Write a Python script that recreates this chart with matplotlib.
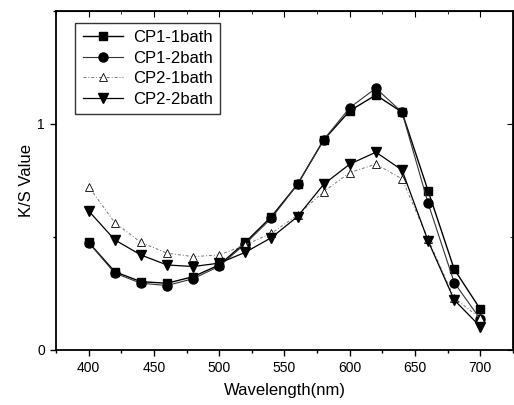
import matplotlib
matplotlib.use("Agg")
import matplotlib.pyplot as plt
from matplotlib.ticker import MultipleLocator

plt.rcParams['font.family'] = ['Liberation Sans', 'DejaVu Sans']

wavelength = [400, 420, 440, 460, 480, 500, 520, 540, 560, 580, 600, 620, 640, 660, 680, 700]
cp1_1bath = [0.476, 0.346, 0.302, 0.295, 0.324, 0.376, 0.476, 0.590, 0.733, 0.929, 1.058, 1.128, 1.052, 0.704, 0.357, 0.180]
cp1_2bath = [0.475, 0.340, 0.295, 0.285, 0.315, 0.370, 0.470, 0.583, 0.733, 0.930, 1.072, 1.158, 1.052, 0.649, 0.298, 0.136]
cp2_1bath = [0.723, 0.563, 0.476, 0.428, 0.413, 0.420, 0.465, 0.516, 0.597, 0.700, 0.785, 0.822, 0.757, 0.490, 0.230, 0.140]
cp2_2bath = [0.615, 0.487, 0.420, 0.376, 0.369, 0.384, 0.432, 0.497, 0.590, 0.733, 0.822, 0.875, 0.796, 0.482, 0.221, 0.103]

fig = plt.figure(figsize=(5.14, 4.05), dpi=100)
ax = fig.add_axes([0.109, 0.136, 0.889, 0.837])

ax.plot(wavelength, cp1_1bath, color='black', lw=1.0, marker='s', ms=6, label='CP1-1bath')
ax.plot(wavelength, cp1_2bath, color='#333333', lw=0.8, marker='o', ms=6.5, mfc='black', mec='black',
        label='CP1-2bath')
ax.plot(wavelength, cp2_1bath, color='#777777', lw=0.7, ls=(0, (3, 2, 1, 2)), marker='^', ms=6,
        mfc='white', mec='black', mew=0.6, label='CP2-1bath')
ax.plot(wavelength, cp2_2bath, color='black', lw=0.9, marker='v', ms=7, label='CP2-2bath')

ax.set_xlim(375, 725)
ax.set_ylim(0, 1.5)
ax.xaxis.set_major_locator(MultipleLocator(50))
ax.xaxis.set_minor_locator(MultipleLocator(25))
ax.set_yticks([0, 1])
ax.yaxis.set_minor_locator(MultipleLocator(0.5))
ax.tick_params(axis='both', which='major', direction='out', length=4, width=1, labelsize=10, pad=4)
ax.tick_params(axis='both', which='minor', direction='out', length=2.5, width=1)
for s in ax.spines.values():
    s.set_linewidth(1.3)

# inward ticks on top/right
axt = ax.secondary_xaxis('top')
axt.xaxis.set_major_locator(MultipleLocator(50))
axt.xaxis.set_minor_locator(MultipleLocator(25))
axt.tick_params(which='major', direction='in', length=4, labeltop=False)
axt.tick_params(which='minor', direction='in', length=2.5)
axt.set_xticklabels([])
axr = ax.secondary_yaxis('right')
axr.set_yticks([0, 1])
axr.yaxis.set_minor_locator(MultipleLocator(0.5))
axr.tick_params(which='major', direction='in', length=4, labelright=False)
axr.tick_params(which='minor', direction='in', length=2.5)
axr.set_yticklabels([])

ax.set_xlabel('Wavelength(nm)', fontsize=12, labelpad=6)
ax.set_ylabel('K/S Value', fontsize=12, labelpad=2)

leg = ax.legend(loc='upper left', bbox_to_anchor=(0.042, 0.965), borderaxespad=0, fontsize=12,
                frameon=True, fancybox=False, edgecolor='black', handlelength=2.4, handletextpad=0.6,
                borderpad=0.45, labelspacing=0.33)
leg.get_frame().set_linewidth(1.0)

fig.savefig('out.png', dpi=100)
